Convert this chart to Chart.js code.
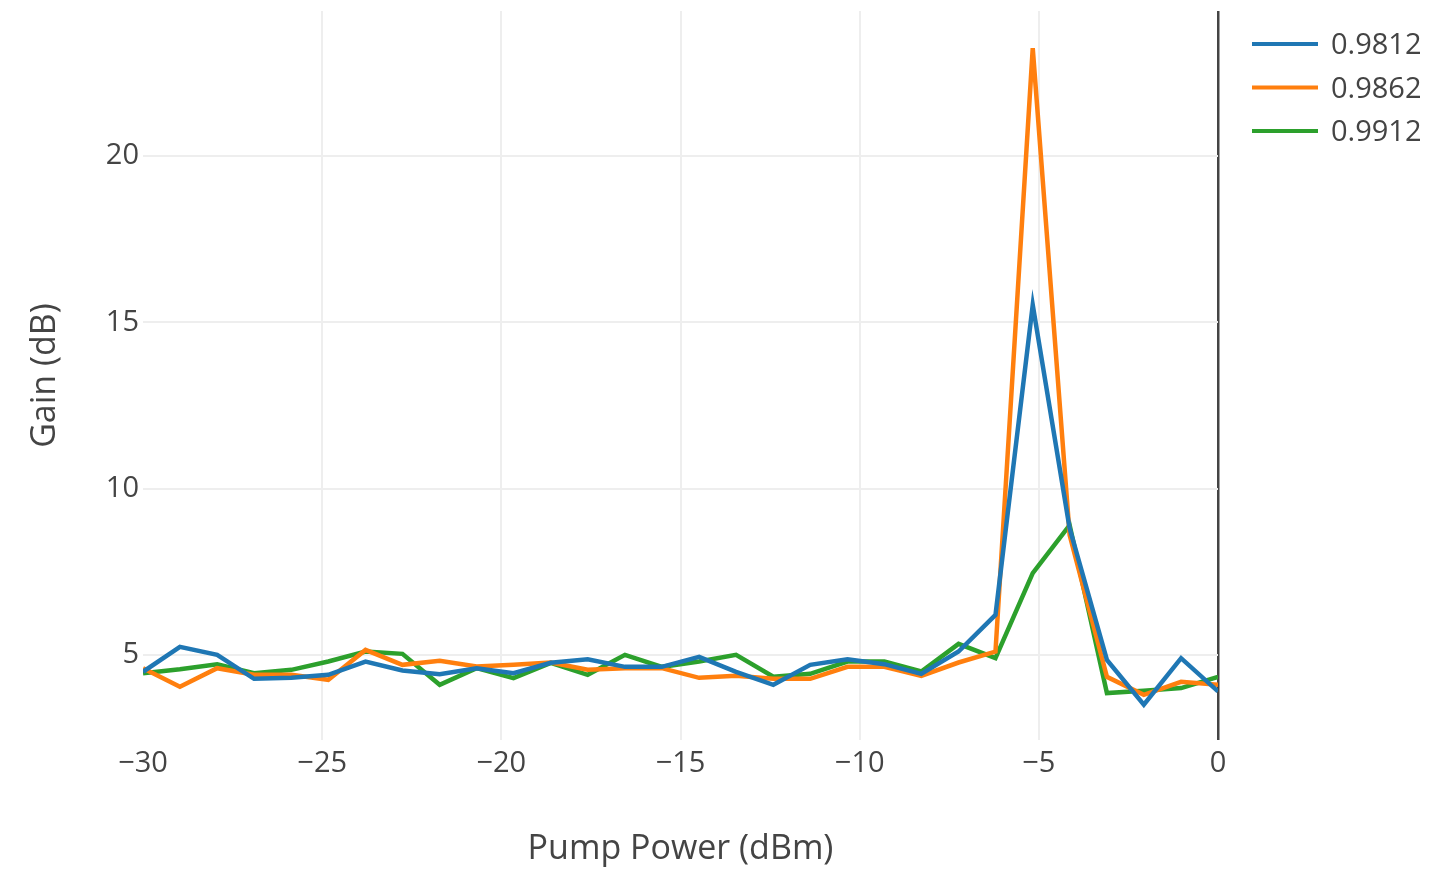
<!DOCTYPE html>
<html>
<head>
<meta charset="utf-8">
<title>Gain vs Pump Power</title>
<script src="https://cdn.jsdelivr.net/npm/chart.js@4/dist/chart.umd.min.js"></script>
<style>
  html, body { margin: 0; padding: 0; background: #fff; }
  #wrap { width: 1430px; height: 872px; position: relative; }
</style>
</head>
<body>
<div id="wrap"><canvas id="gainChart"></canvas></div>
<script>
// Pump power sweep (dBm), 30 points from -30 to 0
const pumpPower = [-30, -28.97, -27.93, -26.90, -25.86, -24.83, -23.79, -22.76, -21.72, -20.69,
                   -19.66, -18.62, -17.59, -16.55, -15.52, -14.48, -13.45, -12.41, -11.38, -10.34,
                   -9.31, -8.28, -7.24, -6.21, -5.17, -4.14, -3.10, -2.07, -1.03, 0];

// Gain (dB) for each coupling value
const gain9812 = [4.49, 5.24, 5.0, 4.28, 4.31, 4.4, 4.8, 4.53, 4.42, 4.6,
                  4.45, 4.76, 4.87, 4.64, 4.64, 4.94, 4.49, 4.1, 4.7, 4.87,
                  4.72, 4.43, 5.1, 6.2, 15.52, 8.8, 4.85, 3.5, 4.9, 3.9];
const gain9862 = [4.6, 4.04, 4.6, 4.4, 4.4, 4.25, 5.15, 4.7, 4.82, 4.65,
                  4.7, 4.77, 4.55, 4.6, 4.6, 4.31, 4.37, 4.28, 4.28, 4.64,
                  4.64, 4.37, 4.77, 5.1, 23.24, 8.6, 4.34, 3.8, 4.19, 4.1];
const gain9912 = [4.45, 4.57, 4.72, 4.45, 4.55, 4.8, 5.1, 5.03, 4.1, 4.6,
                  4.3, 4.76, 4.4, 5.0, 4.64, 4.8, 5.0, 4.34, 4.43, 4.8,
                  4.8, 4.5, 5.33, 4.9, 7.46, 8.9, 3.85, 3.92, 4.0, 4.34];

const seriesNames = ['0.9812', '0.9862', '0.9912'];
const seriesColors = ['#1f77b4', '#ff7f0e', '#2ca02c'];

const xTicks = [-30, -25, -20, -15, -10, -5, 0];
const yTicks = [5, 10, 15, 20];

const FONT = '"Open Sans", "DejaVu Sans", sans-serif';
const TEXT = '#444';

function toPoints(ys) {
  return ys.map((y, i) => ({ x: pumpPower[i], y: y }));
}

// Legend on the right, drawn by hand so it sits where we want it
const sideLegend = {
  id: 'sideLegend',
  afterDraw(chart) {
    const ctx = chart.ctx;
    ctx.save();
    chart.data.datasets.forEach((ds, i) => {
      const y = 44 + i * 43.5;
      ctx.strokeStyle = ds.borderColor;
      ctx.lineWidth = 4;
      ctx.beginPath();
      ctx.moveTo(1252, y);
      ctx.lineTo(1318, y);
      ctx.stroke();
      ctx.fillStyle = TEXT;
      ctx.font = '29px ' + FONT;
      ctx.textBaseline = 'middle';
      ctx.textAlign = 'left';
      ctx.fillText(ds.label, 1331, y + 2);
    });
    ctx.restore();
  }
};

const datasets = [gain9812, gain9862, gain9912].map((ys, i) => ({
  label: seriesNames[i],
  data: toPoints(ys),
  borderColor: seriesColors[i],
  backgroundColor: seriesColors[i],
  borderWidth: 4.5,
  pointRadius: 0,
  tension: 0,
  fill: false
}));

const ctx = document.getElementById('gainChart').getContext('2d');
const gainChart = new Chart(ctx, {
  type: 'line',
  data: { datasets: datasets },
  options: {
    responsive: true,
    maintainAspectRatio: false,
    animation: false,
    layout: { padding: { top: 11, right: 212, bottom: 0, left: 0 } },
    plugins: {
      legend: { display: false },
      tooltip: { enabled: false }
    },
    scales: {
      x: {
        type: 'linear',
        min: -30,
        max: 0,
        afterBuildTicks: axis => { axis.ticks = xTicks.map(v => ({ value: v })); },
        afterFit: axis => {
          axis.height = 132;
          axis.paddingLeft = 0;
          axis.paddingRight = 0;
        },
        border: { display: false },
        grid: {
          drawTicks: false,
          lineWidth: ctx => (ctx.tick && ctx.tick.value === 0 ? 2.5 : 2),
          color: ctx => {
            if (!ctx.tick) return '#eee';
            if (ctx.tick.value === 0) return '#444';
            if (ctx.tick.value === -30) return 'rgba(0,0,0,0)';
            return '#eee';
          }
        },
        ticks: {
          color: TEXT,
          font: { family: FONT, size: 29 },
          padding: 6,
          maxRotation: 0,
          callback: v => (v < 0 ? '\u2212' + Math.abs(v) : String(v))
        },
        title: {
          display: true,
          text: 'Pump Power (dBm)',
          color: TEXT,
          font: { family: FONT, size: 34 },
          padding: { top: 0, bottom: 2 }
        }
      },
      y: {
        type: 'linear',
        min: 2.44,
        max: 24.36,
        afterBuildTicks: axis => { axis.ticks = yTicks.map(v => ({ value: v })); },
        afterFit: axis => {
          axis.width = 143;
          axis.paddingTop = 0;
          axis.paddingBottom = 0;
        },
        border: { display: false },
        grid: {
          drawTicks: false,
          lineWidth: 2,
          color: '#eee'
        },
        ticks: {
          color: TEXT,
          font: { family: FONT, size: 29 },
          padding: 4
        },
        title: {
          display: true,
          text: 'Gain (dB)',
          color: TEXT,
          font: { family: FONT, size: 34 },
          padding: { top: 25, bottom: 0 }
        }
      }
    }
  },
  plugins: [sideLegend]
});
</script>
</body>
</html>
